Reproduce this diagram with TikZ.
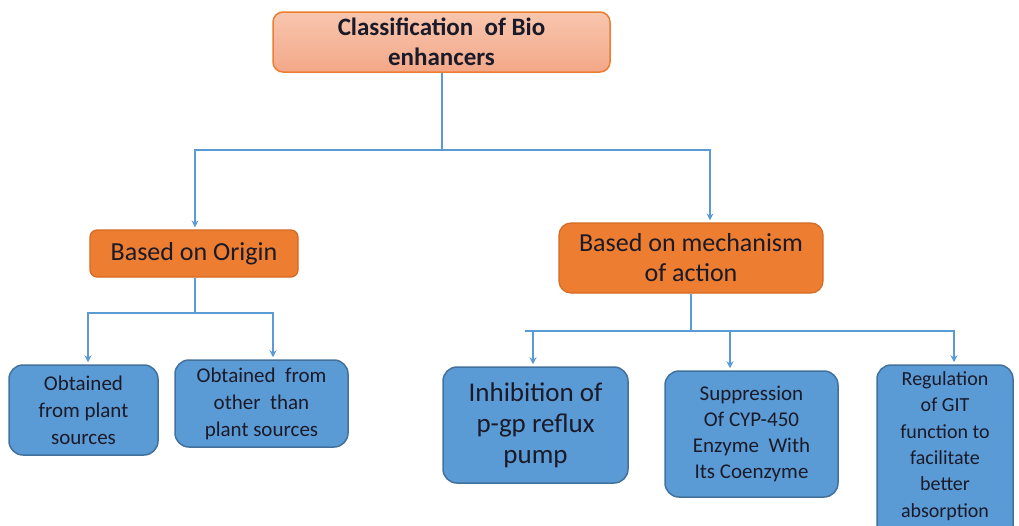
\documentclass[tikz,border=0pt]{standalone}
\usepackage{fontspec}
\setmainfont{Carlito}
\usetikzlibrary{arrows.meta}
\definecolor{lineblue}{HTML}{5B9BD5}
\definecolor{boxblue}{HTML}{5B9BD5}
\definecolor{boxblueborder}{HTML}{41719C}
\definecolor{orng}{HTML}{ED7D31}
\definecolor{orngborder}{HTML}{D46A22}
\definecolor{peachtop}{HTML}{F8C6AE}
\definecolor{peachbot}{HTML}{F3A888}
\definecolor{txtdark}{HTML}{1A1A28}
\begin{document}
\begin{tikzpicture}[x=1pt,y=-1pt,
  conn/.style={draw=lineblue,line width=2pt},
  arr/.style={conn,-{Stealth[length=7pt,width=7pt]},shorten >=2pt},
  topbox/.style={draw=orng,line width=1.5pt,rounded corners=10pt,
    top color=peachtop,bottom color=peachbot,align=center,text=txtdark,
    font=\fontsize{25}{30}\selectfont\bfseries,inner sep=0pt},
  orangebox/.style={draw=orngborder,line width=1.2pt,fill=orng,align=center,
    text=txtdark,font=\fontsize{26}{30}\selectfont,inner sep=0pt},
  bluebox/.style={draw=boxblueborder,line width=1.5pt,fill=boxblue,align=center,
    rounded corners=14pt,text=txtdark,inner sep=0pt},
  plaintext/.style={align=center,text=txtdark,inner sep=0pt}
]
\useasboundingbox (0,0) rectangle (1019,525);
\clip (0,0) rectangle (1019,525);

% nodes
\node[topbox,minimum width=337pt,minimum height=60pt] (top) at (441.5,42)
  {Classification\ \ of Bio\\enhancers};
\node[orangebox,rounded corners=7pt,minimum width=208pt,minimum height=47pt] (origin) at (194,253.5)
  {Based on Origin};
\node[orangebox,rounded corners=12pt,minimum width=264pt,minimum height=70pt] (mech) at (691,258)
  {Based on mechanism\\of action};

\node[bluebox,font=\fontsize{21}{27}\selectfont,minimum width=149pt,minimum height=90pt] (b1) at (83.5,410)
  {Obtained\\from plant\\sources};
\node[bluebox,font=\fontsize{21}{27}\selectfont,minimum width=173pt,minimum height=87pt] (b2) at (261.5,403.5)
  {Obtained\ \ from\\other\ \ than\\plant sources};
\node[bluebox,font=\fontsize{27}{31}\selectfont,minimum width=185pt,minimum height=116pt] (b3) at (535.5,425)
  {Inhibition of\\p-gp reflux\\pump};
\node[bluebox,font=\fontsize{21}{26}\selectfont,minimum width=173pt,minimum height=126pt] (b4) at (751.5,434)
  {Suppression\\Of CYP-450\\Enzyme\ \ With\\Its Coenzyme};
\node[bluebox,minimum width=136pt,minimum height=190pt] (b5) at (945,460) {};
\node[plaintext,font=\fontsize{20}{26.3}\selectfont] (b5t) at (945,446)
  {Regulation\\of GIT\\function to\\facilitate\\better\\absorption};

% junction coordinates
\coordinate (j1) at (441.5,150);
\coordinate (j2) at (195,313);
\coordinate (j3) at (691,331);
\coordinate (j3l) at (525,331);

% connectors
\draw[conn] (top.south) -- (j1);
\draw[arr] (j1) -| ([xshift=1pt]origin.north);
\draw[arr] (j1) -| ([xshift=19pt]mech.north);

\draw[conn] ([xshift=1pt]origin.south) -- (j2);
\draw[arr] (j2) -| ([xshift=4.5pt]b1.north);
\draw[arr] (j2) -| ([xshift=11.5pt]b2.north);

\draw[conn] (mech.south) -- (j3);
\draw[conn] (j3) -- (j3l);
\draw[arr] (j3) -| ([xshift=-2.5pt]b3.north);
\draw[arr] (j3) -| ([xshift=-21.5pt]b4.north);
\draw[arr] (j3) -| ([xshift=9pt]b5.north);
\end{tikzpicture}
\end{document}
